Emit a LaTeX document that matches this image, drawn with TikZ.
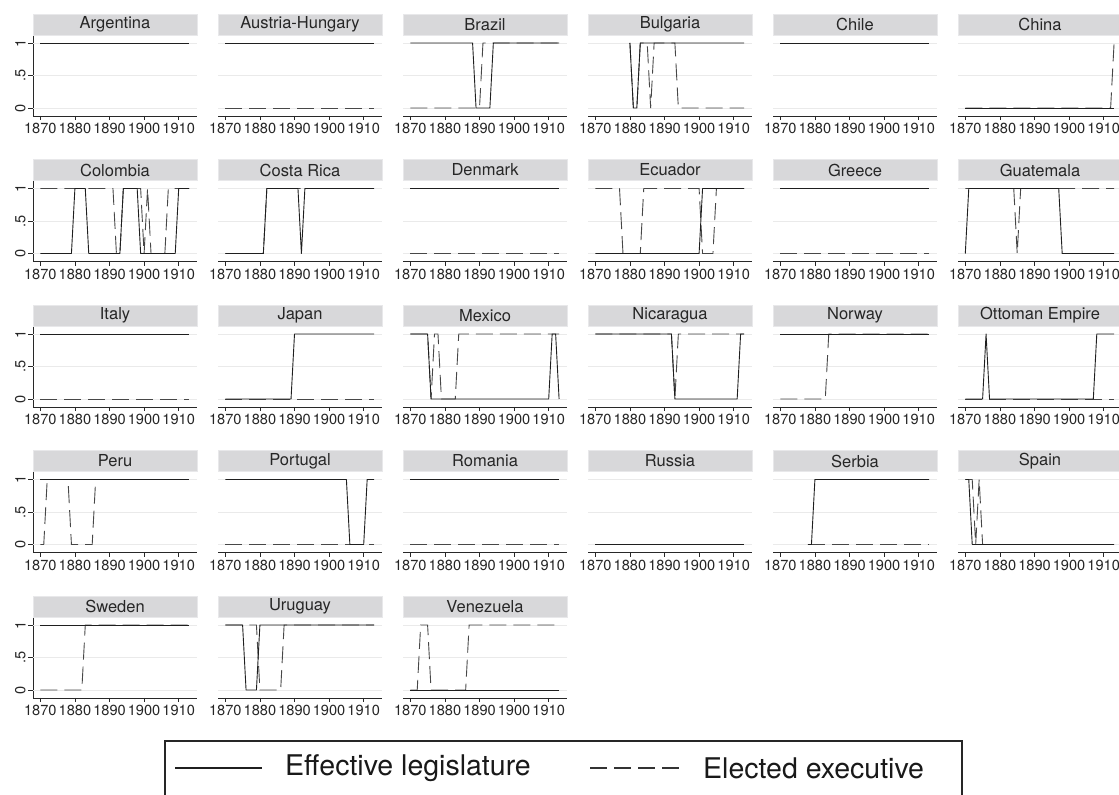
\documentclass[tikz,border=0pt]{standalone}
\usepackage{fontspec}
\setmainfont{TeX Gyre Heros}
\definecolor{barfill}{RGB}{216,216,218}
\definecolor{barline}{RGB}{232,232,234}
\definecolor{gridc}{RGB}{234,234,234}
\definecolor{axisc}{RGB}{40,40,40}
\tikzset{
 solidln/.style={line width=0.9pt, draw=black!88, line join=round},
 dashln/.style={line width=0.9pt, draw=black!72, dash pattern=on 17pt off 7pt},
 gridln/.style={line width=0.9pt, draw=gridc},
 axisln/.style={line width=0.8pt, draw=axisc},
 titlebar/.style={fill=barfill, draw=barline, line width=0.8pt, minimum width=164pt, minimum height=21pt, inner sep=0pt, font=\fontsize{16.5}{18}\selectfont, text=black!85},
 ticklab/.style={font=\fontsize{14.6}{16}\selectfont, inner sep=0pt, anchor=north, text=black!85},
 ylab/.style={font=\fontsize{14.6}{16}\selectfont, inner sep=0pt, anchor=south, rotate=90, text=black!85},
 legtext/.style={font=\fontsize{28.5}{30}\selectfont, inner sep=0pt, anchor=west, text=black!90},
}
\newcommand{\pnl}[6]{%
\begin{scope}[shift={({40.3+185*#1},{687-145.5*#2})}]
 \foreach \g in {0,32.5,65} \draw[gridln] (-7.3,\g) -- (156.7,\g);
 \node[titlebar] (t#3) at (74.7,83.5) {#4};
 \draw[axisln] (-7.3,-8) -- (156.7,-8);
 \foreach \k/\yr in {0/1870,1/1880,2/1890,3/1900,4/1910} {
   \draw[axisln] (34.6*\k,-8) -- (34.6*\k,-12.5);
   \node[ticklab] (l#3\k) at (34.6*\k,-15) {\yr};
 }
 \begin{scope}[xscale=3.46,yscale=65]
  \draw[dashln] #6;
  \draw[solidln] #5;
 \end{scope}
\end{scope}}
\newcommand{\yax}[1]{%
\begin{scope}[shift={(40.3,{687-145.5*#1})}]
 \draw[axisln] (-7.3,-8) -- (-7.3,72);
 \foreach \v/\t in {0/0,32.5/.5,65/1} {
   \draw[axisln] (-7.3,\v) -- (-12.3,\v);
   \node[ylab] (y#1\v) at (-14.5,\v) {\t};
 }
\end{scope}}
\begin{document}
\begin{tikzpicture}[x=1pt,y=1pt]
\useasboundingbox (0,0) rectangle (1119,795);
\fill[white] (0,0) rectangle (1119,795);
\foreach \r in {0,...,4} {\yax{\r}}
% row 0
\pnl{0}{0}{arg}{Argentina}{(0,1)--(43,1)}{(0,1)--(43,1)}
\pnl{1}{0}{aus}{Austria-Hungary}{(0,1)--(43,1)}{(0,0)--(43,0)}
\pnl{2}{0}{bra}{Brazil}{(0,1)--(18,1)--(19,0)--(23,0)--(24,1)--(43,1)}{(0,0)--(20,0)--(21,1)--(43,1)}
\pnl{3}{0}{bul}{Bulgaria}{(10,1)--(11,0)--(12,0)--(13,1)--(43,1)}{(10,1)--(11,0)--(12,0)--(13,1)--(15,1)--(16,0)--(17,1)--(23,1)--(24,0)--(43,0)}
\pnl{4}{0}{chl}{Chile}{(0,1)--(43,1)}{(0,1)--(43,1)}
\pnl{5}{0}{chn}{China}{(0,0)--(43,0)}{(0,0)--(42,0)--(43,1)}
% row 1
\pnl{0}{1}{col}{Colombia}{(0,0)--(9,0)--(10,1)--(13,1)--(14,0)--(23,0)--(24,1)--(28,1)--(29,0)--(39,0)--(40,1)--(43,1)}{(0,1)--(21,1)--(22,0)--(23,0)--(24,1)--(29,1)--(30,0)--(31,1)--(32,0)--(36,0)--(37,1)--(43,1)}
\pnl{1}{1}{cri}{Costa Rica}{(0,0)--(11,0)--(12,1)--(21,1)--(22,0)--(23,1)--(43,1)}{(0,0)--(11,0)--(12,1)--(43,1)}
\pnl{2}{1}{den}{Denmark}{(0,1)--(43,1)}{(0,0)--(43,0)}
\pnl{3}{1}{ecu}{Ecuador}{(0,0)--(30,0)--(31,1)--(43,1)}{(0,1)--(7,1)--(8,0)--(13,0)--(14,1)--(30,1)--(31,0)--(34,0)--(35,1)--(43,1)}
\pnl{4}{1}{gre}{Greece}{(0,1)--(43,1)}{(0,0)--(43,0)}
\pnl{5}{1}{gua}{Guatemala}{(0,0)--(1,1)--(27,1)--(28,0)--(43,0)}{(0,1)--(14,1)--(15,0)--(16,1)--(43,1)}
% row 2
\pnl{0}{2}{ita}{Italy}{(0,1)--(43,1)}{(0,0)--(43,0)}
\pnl{1}{2}{jap}{Japan}{(0,0)--(19,0)--(20,1)--(43,1)}{(0,0)--(43,0)}
\pnl{2}{2}{mex}{Mexico}{(0,1)--(5,1)--(6,0)--(40,0)--(41,1)--(42,1)--(43,0)}{(0,1)--(5,1)--(6,0)--(7,1)--(8,1)--(9,0)--(13,0)--(14,1)--(43,1)}
\pnl{3}{2}{nic}{Nicaragua}{(0,1)--(22,1)--(23,0)--(41,0)--(42,1)--(43,1)}{(0,1)--(22,1)--(23,0)--(24,1)--(43,1)}
\pnl{4}{2}{nor}{Norway}{(0,1)--(43,1)}{(0,0)--(13,0)--(14,1)--(43,1)}
\pnl{5}{2}{ott}{Ottoman Empire}{(0,0)--(5,0)--(6,1)--(7,0)--(37,0)--(38,1)--(43,1)}{(0,0)--(43,0)}
% row 3
\pnl{0}{3}{per}{Peru}{(0,1)--(43,1)}{(0,0)--(1,0)--(2,1)--(8,1)--(9,0)--(15,0)--(16,1)--(43,1)}
\pnl{1}{3}{por}{Portugal}{(0,1)--(35,1)--(36,0)--(40,0)--(41,1)--(43,1)}{(0,0)--(43,0)}
\pnl{2}{3}{rom}{Romania}{(0,1)--(43,1)}{(0,0)--(43,0)}
\pnl{3}{3}{rus}{Russia}{(0,0)--(43,0)}{(0,0)--(43,0)}
\pnl{4}{3}{ser}{Serbia}{(8,0)--(9,0)--(10,1)--(43,1)}{(8,0)--(43,0)}
\pnl{5}{3}{spa}{Spain}{(0,1)--(1,1)--(2,0)--(43,0)}{(0,1)--(2,1)--(3,0)--(4,1)--(5,0)--(43,0)}
% row 4
\pnl{0}{4}{swe}{Sweden}{(0,1)--(43,1)}{(0,0)--(12,0)--(13,1)--(43,1)}
\pnl{1}{4}{uru}{Uruguay}{(0,1)--(5,1)--(6,0)--(9,0)--(10,1)--(43,1)}{(0,1)--(9,1)--(10,0)--(16,0)--(17,1)--(43,1)}
\pnl{2}{4}{ven}{Venezuela}{(0,0)--(43,0)}{(0,0)--(2,0)--(3,1)--(5,1)--(6,0)--(16,0)--(17,1)--(43,1)}
% legend
\coordinate (bxa) at (165,-2);
\coordinate (bxb) at (165,54);
\coordinate (bxc) at (962,54);
\coordinate (bxd) at (962,-2);
\draw[line width=1.2pt, draw=black!85] (bxa) -- (bxb) -- (bxc) -- (bxd);
\coordinate (sa) at (175,27);
\coordinate (sb) at (262,27);
\draw[line width=1.6pt, draw=black!88] (sa) -- (sb);
\node[legtext] (leg1) at (285,27) {Effective legislature};
\coordinate (da) at (590,27);
\coordinate (db) at (682,27);
\draw[line width=1.6pt, draw=black!80, dash pattern=on 17pt off 7pt] (da) -- (db);
\node[legtext] (leg2) at (703,27) {Elected executive};
\end{tikzpicture}
\end{document}
